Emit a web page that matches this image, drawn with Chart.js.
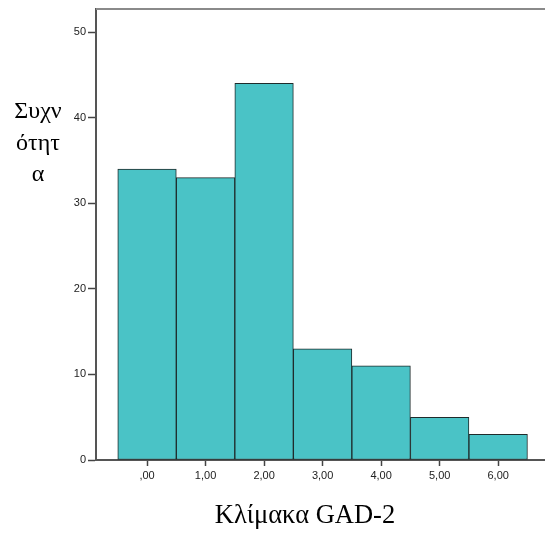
<!DOCTYPE html>
<html lang="el">
<head>
    <meta charset="UTF-8">
    <title>Κλίμακα GAD-2</title>
    <script src="https://cdn.jsdelivr.net/npm/chart.js"></script>
    <style>
        body { margin: 0; background: #fff; }
        #chartBox { width: 545px; height: 533px; }
    </style>
</head>
<body>
    <div id="chartBox">
        <canvas id="histograma" width="545" height="533"></canvas>
    </div>

<script>
    // dados do histograma
    const categorias = [0, 1, 2, 3, 4, 5, 6];
    const frequencias = [34, 33, 44, 13, 11, 5, 3];
    const rotulosX = [',00', '1,00', '2,00', '3,00', '4,00', '5,00', '6,00'];
    const ticksY = [0, 10, 20, 30, 40, 50];
    const tituloX = 'Κλίμακα GAD-2';
    const tituloY = ['Συχν', 'ότητ', 'α'];

    const corBarra = '#4ac3c6';
    const corBorda = '#1f2b2b';

    // titulos e moldura desenhados a mao
    const titulos = {
        id: 'titulos',
        afterDraw(chart) {
            const ctx = chart.ctx;
            const area = chart.chartArea;
            ctx.save();
            ctx.strokeStyle = '#8a8a8a';
            ctx.lineWidth = 2;
            ctx.beginPath();
            ctx.moveTo(area.left, area.top);
            ctx.lineTo(area.right, area.top);
            ctx.stroke();

            ctx.fillStyle = '#000';
            ctx.textAlign = 'center';
            ctx.textBaseline = 'alphabetic';
            ctx.font = '24px "Liberation Serif"';
            tituloY.forEach((linha, i) => ctx.fillText(linha, 38, 118 + i * 31.5));
            ctx.font = '26.5px "Liberation Serif"';
            ctx.fillText(tituloX, 305, 523);
            ctx.restore();
        }
    };

    const ctx = document.getElementById('histograma').getContext('2d');

    const grafico = new Chart(ctx, {
        type: 'bar',
        data: {
            datasets: [{
                label: 'Συχνότητα',
                data: categorias.map((c, i) => ({ x: c, y: frequencias[i] })),
                backgroundColor: corBarra,
                borderColor: corBorda,
                borderWidth: 1,
                borderSkipped: false,
                categoryPercentage: 1,
                barPercentage: 1
            }]
        },
        options: {
            responsive: false,
            animation: false,
            layout: { padding: { top: 9, right: 0, left: 0, bottom: 0 } },
            plugins: {
                legend: { display: false },
                tooltip: { enabled: false }
            },
            scales: {
                x: {
                    type: 'linear',
                    offset: false,
                    min: -0.872,
                    max: 6.8,
                    afterBuildTicks: s => { s.ticks = categorias.map(v => ({ value: v })); },
                    afterFit: s => { s.height = 73; },
                    ticks: {
                        callback: (v) => rotulosX[categorias.indexOf(v)],
                        font: { family: 'Arial, "Liberation Sans"', size: 11 },
                        color: '#222',
                        padding: 3,
                        maxRotation: 0,
                        autoSkip: false
                    },
                    grid: {
                        offset: false,
                        drawOnChartArea: false,
                        tickLength: 6,
                        tickWidth: 1.5,
                        tickColor: '#444'
                    },
                    border: { color: '#555', width: 2 }
                },
                y: {
                    min: 0,
                    max: 52.7,
                    afterBuildTicks: s => { s.ticks = ticksY.map(v => ({ value: v })); },
                    afterFit: s => { s.width = 96; },
                    ticks: {
                        font: { family: 'Arial, "Liberation Sans"', size: 11 },
                        color: '#222',
                        padding: 2
                    },
                    grid: {
                        drawOnChartArea: false,
                        tickLength: 8,
                        tickWidth: 1.5,
                        tickColor: '#444'
                    },
                    border: { color: '#555', width: 2 }
                }
            }
        },
        plugins: [titulos]
    });
</script>
</body>
</html>
